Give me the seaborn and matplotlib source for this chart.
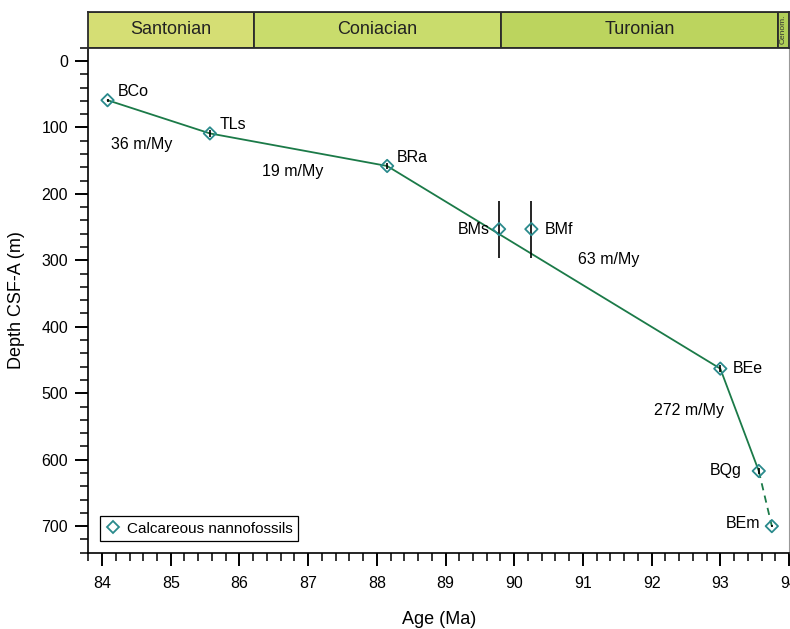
import numpy as np
import pandas as pd
import matplotlib
matplotlib.use("Agg")
import matplotlib.pyplot as plt
from matplotlib.ticker import MultipleLocator
from matplotlib.lines import Line2D
import seaborn as sns

# datum ages / depths
datum_names = ["BCo", "TLs", "BRa", "BMs", "BMf", "BEe", "BQg", "BEm"]
datum_age = [84.08, 85.57, 88.15, 89.78, 90.25, 93.00, 93.56, 93.75]
datum_depth = [59, 109, 158, 253, 253, 463, 617, 700]
depth_err = [2, 5, 5, 43, 43, 5, 5, 2]

# age-depth model tie points (solid), last leg dashed
tie_solid = ["BCo", "TLs", "BRa", "BEe", "BQg"]
tie_dashed = ["BQg", "BEm"]

rate_values = [36, 19, 63, 272]
rate_age = [84.57, 86.78, 91.37, 92.54]
rate_depth = [125, 166, 298, 526]

stage_names = ["Santonian", "Coniacian", "Turonian", "Cenom."]
stage_start = [83.6, 86.21, 89.81, 93.84]
stage_end = [86.21, 89.81, 93.84, 100.5]
stage_colors = ["#d5de74", "#c9dc6c", "#bcd45e", "#b0cf58"]

# label offsets in pixels (dx, dy up, ha)
label_offsets = {
    "BCo": (10, 9, "left"), "TLs": (10, 9, "left"), "BRa": (10, 8, "left"),
    "BMs": (-9, 0, "right"), "BMf": (13, 0, "left"), "BEe": (12, 0, "left"),
    "BQg": (-17, 0, "right"), "BEm": (-12, 3, "right"),
}

LINE_GREEN = "#1b7a48"
MARKER_TEAL = "#2a8a8c"

sns.set_style("ticks")
plt.rcParams["font.family"] = ["Liberation Sans", "DejaVu Sans"]
plt.rcParams["text.color"] = "black"
plt.rcParams["axes.labelcolor"] = "black"
plt.rcParams["xtick.color"] = "black"
plt.rcParams["ytick.color"] = "black"

df = pd.DataFrame({"name": datum_names, "age": datum_age,
                   "depth": datum_depth, "err": depth_err})

W, H = 790, 629
fig = plt.figure(figsize=(W / 100, H / 100), dpi=100)

L, R = 88.3, 789.0
T_band, B_band = 11.7, 47.7
B_main = 552.7
ax = fig.add_axes([L / W, 1 - B_main / H, (R - L) / W, (B_main - B_band) / H])
axb = fig.add_axes([L / W, 1 - B_band / H, (R - L) / W, (B_band - T_band) / H])

xlim = (83.8, 94.0)

# line
solid = df.set_index("name").loc[tie_solid].reset_index()
dashed = df.set_index("name").loc[tie_dashed].reset_index()
sns.lineplot(data=solid, x="age", y="depth", sort=False, color=LINE_GREEN,
             lw=1.3, ax=ax, estimator=None)
sns.lineplot(data=dashed, x="age", y="depth", sort=False, color=LINE_GREEN,
             lw=1.3, ax=ax, estimator=None, linestyle=(0, (4, 3)))

# error bars
ax.errorbar(df["age"], df["depth"], yerr=df["err"], fmt="none",
            ecolor="black", elinewidth=1.2, capsize=0, zorder=3)

# markers
sns.scatterplot(data=df, x="age", y="depth", marker="D", s=40,
                facecolors="none", edgecolor=MARKER_TEAL, linewidth=1.3,
                ax=ax, zorder=4)

for _, row in df.iterrows():
    dx, dy, ha = label_offsets[row["name"]]
    ax.annotate(row["name"], (row["age"], row["depth"]), xytext=(dx, dy),
                textcoords="offset pixels", ha=ha, va="center", fontsize=11.5)

for v, a, d in zip(rate_values, rate_age, rate_depth):
    ax.text(a, d, f"{v} m/My", ha="center", va="center", fontsize=11.5)

ax.set_xlim(*xlim)
ax.set_ylim(740, -20)
ax.xaxis.set_major_locator(MultipleLocator(1))
ax.xaxis.set_minor_locator(MultipleLocator(0.2))
ax.yaxis.set_major_locator(MultipleLocator(100))
ax.yaxis.set_minor_locator(MultipleLocator(20))
ax.tick_params(which="major", direction="out", length=9.5, width=1.4,
               labelsize=11.5, color="black")
ax.tick_params(which="minor", direction="out", length=5.5, width=1.1,
               color="black")
ax.tick_params(axis="x", which="major", pad=7)
ax.tick_params(axis="y", which="major", pad=5)
ax.set_xlabel("Age (Ma)", fontsize=13)
ax.set_ylabel("Depth CSF-A (m)", fontsize=13)
ax.xaxis.set_label_coords(0.5, -0.115)
ax.yaxis.set_label_coords(-0.09, 0.5)
for s in ["left", "bottom"]:
    ax.spines[s].set_linewidth(1.2)
    ax.spines[s].set_color("black")
ax.spines["top"].set_visible(False)
ax.spines["right"].set_visible(True)
ax.spines["right"].set_color("#999999")
ax.spines["right"].set_linewidth(0.8)

leg_handle = Line2D([], [], marker="D", ls="none", markersize=6.5,
                    markerfacecolor="none", markeredgecolor=MARKER_TEAL,
                    markeredgewidth=1.3)
leg = ax.legend([leg_handle], ["Calcareous nannofossils"], loc="lower left",
                bbox_to_anchor=(0.0167, 0.023), borderaxespad=0, fontsize=11,
                fancybox=False, framealpha=1, edgecolor="black",
                handletextpad=0.4, handlelength=1.0, borderpad=0.35)
leg.get_frame().set_linewidth(0.9)

# stage band
for name, s0, s1, c in zip(stage_names, stage_start, stage_end, stage_colors):
    axb.axvspan(s0, s1, facecolor=c, edgecolor="#2b2b2b", lw=1.3)
    cx = (max(s0, xlim[0]) + min(s1, xlim[1])) / 2
    if name == "Cenom.":
        axb.text(cx, 0.5, name, rotation=90, ha="center", va="center",
                 fontsize=6, color="#333333")
    else:
        axb.text(cx, 0.5, name, ha="center", va="center", fontsize=13,
                 color="#222222")
axb.set_xlim(*xlim)
axb.set_ylim(0, 1)
axb.set_xticks([])
axb.set_yticks([])
for s in axb.spines.values():
    s.set_linewidth(1.3)
    s.set_color("#2b2b2b")

fig.savefig("out.png", dpi=100)
